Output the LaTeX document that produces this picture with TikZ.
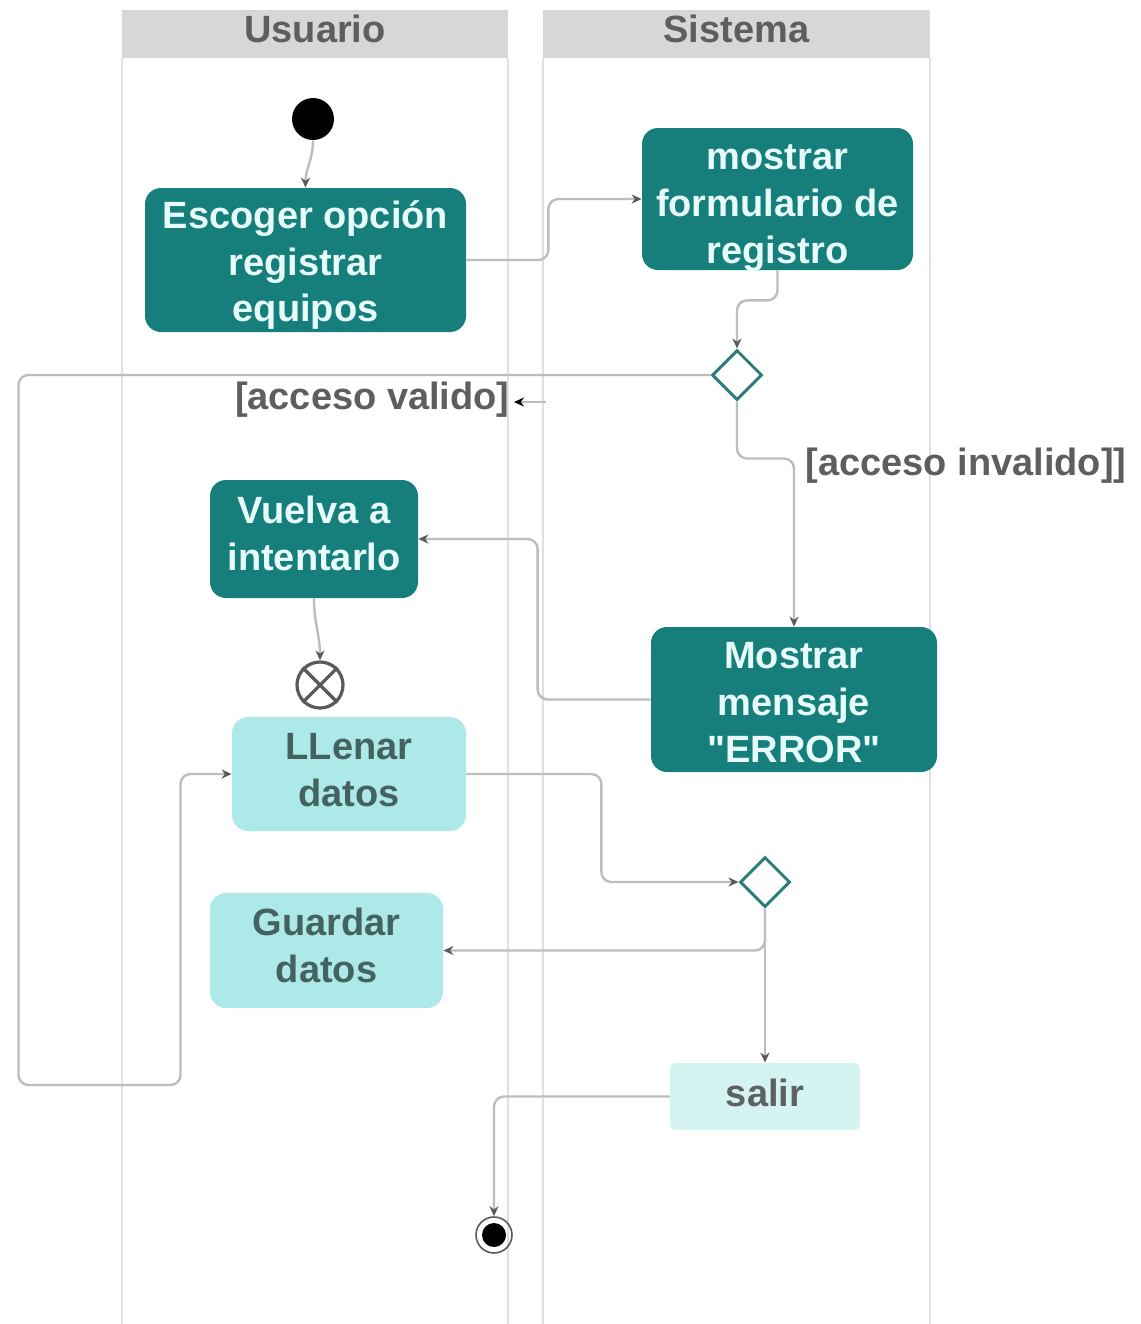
\documentclass[tikz,border=0pt]{standalone}
\usepackage{fontspec}
\setmainfont{Liberation Sans}
\newfontfamily\qfont{Liberation Sans}
\usetikzlibrary{shapes.geometric,arrows.meta}
\definecolor{dteal}{HTML}{167F7B}
\definecolor{dtext}{HTML}{E6FBFA}
\definecolor{lcyan}{HTML}{AEE9EA}
\definecolor{ltext}{HTML}{44625F}
\definecolor{vlcyan}{HTML}{D5F3F1}
\definecolor{stext}{HTML}{5A6262}
\definecolor{lanegray}{HTML}{D6D7D9}
\definecolor{laneline}{HTML}{E0E0E0}
\definecolor{connline}{HTML}{BDBDBD}
\definecolor{tipgray}{HTML}{5A5A5A}
\definecolor{dstroke}{HTML}{2D7D78}
\definecolor{lbl}{HTML}{5E5E5E}
\begin{document}
\begin{tikzpicture}[x=0.5pt,y=-0.5pt,
  font=\fontsize{19pt}{23.5pt}\selectfont\bfseries,
  darkbox/.style={rectangle,rounded corners=8pt,fill=dteal,inner sep=0pt},
  lightbox/.style={rectangle,rounded corners=8pt,fill=lcyan,inner sep=0pt},
  salbox/.style={rectangle,rounded corners=3pt,fill=vlcyan,inner sep=0pt},
  darktext/.style={text=dtext,align=center,inner sep=0pt},
  lighttext/.style={text=ltext,align=center,inner sep=0pt},
  saltext/.style={text=stext,align=center,inner sep=0pt},
  decision/.style={diamond,draw=dstroke,line width=1.5pt,fill=white,minimum width=25pt,minimum height=25pt,inner sep=0pt},
  conn/.style={draw=connline,line width=1.2pt,rounded corners=5pt,-{Stealth[length=5pt,width=4.5pt,color=tipgray]}},
  lane/.style={draw=laneline,line width=0.8pt},
  header/.style={fill=lanegray,inner sep=0pt},
  guard/.style={text=lbl,inner sep=0pt}
]
\useasboundingbox (0,0) rectangle (1141,1324);
\fill[white] (0,0) rectangle (1141,1324);
% lanes
\draw[lane] (122,58) -- (122,1324);
\draw[lane] (508,58) -- (508,1324);
\draw[lane] (543,58) -- (543,1324);
\draw[lane] (930,58) -- (930,1324);
\node[header,minimum width=193pt,minimum height=24pt] (hu) at (315,34) {};
\node[header,minimum width=193.5pt,minimum height=24pt] (hs) at (736.5,34) {};
\node[guard] (hut) at (315,29) {Usuario};
\node[guard] (hst) at (736.5,29) {Sistema};
% nodes
\node[circle,fill=black,minimum size=21pt,inner sep=0pt] (start) at (313,119) {};
\node[darkbox,minimum width=160.5pt,minimum height=72pt] (esc) at (305.5,260) {};
\node[darktext] (esct) at (305.5,265) {Escoger opción\\registrar\\equipos};
\node[darkbox,minimum width=135.5pt,minimum height=71pt] (mos) at (777.5,199) {};
\node[darktext] (most) at (777.5,208) {mostrar\\formulario de\\registro};
\node[decision] (d1) at (737,375) {};
\node[guard,anchor=east] (lv) at (510,400) {[acceso valido]};
\coordinate (vstub) at (546,402);
\node[guard,anchor=west] (li) at (805,466) {[acceso invalido]]};
\node[darkbox,minimum width=104pt,minimum height=59pt] (vue) at (314,539) {};
\node[darktext] (vuet) at (314,533) {Vuelva a\\intentarlo};
\node[darkbox,minimum width=143pt,minimum height=72.5pt] (err) at (794,699.5) {};
\node[darktext] (errt) at (794,702.5) {Mostrar\\mensaje\\{\qfont\bfseries "ERROR"}};
\node[circle,draw=tipgray,line width=1.6pt,minimum size=23pt,inner sep=0pt] (xf) at (320,685) {};
\draw[tipgray,line width=1.6pt] (xf.north east) -- (xf.south west) (xf.north west) -- (xf.south east);
\node[lightbox,minimum width=117pt,minimum height=57pt] (lle) at (349,774) {};
\node[lighttext] (llet) at (349,770) {LLenar\\datos};
\node[decision] (d2) at (765,882) {};
\node[lightbox,minimum width=116.5pt,minimum height=57.5pt] (gua) at (326.5,950.5) {};
\node[lighttext] (guat) at (326.5,945.5) {Guardar\\datos};
\node[salbox,minimum width=95pt,minimum height=33.5pt] (sal) at (765,1096.5) {};
\node[saltext] (salt) at (765,1093) {salir};
\node[circle,draw=tipgray,line width=0.8pt,minimum size=18pt,inner sep=0pt] (fin) at (494,1235) {};
\fill[black] (fin.center) circle[radius=6pt];
% connectors
\draw[conn,rounded corners=0pt] (start.south) to[out=-90,in=90] (esc.north);
\draw[conn] (esc.east) -- ++(82,0) |- (mos.west);
\draw[conn] (mos.south) -- ++(0,30) -| (d1.north);
\draw[conn] (d1.west) -- ++(-692,0) -- ++(0,710) -- ++(162,0) |- (lle.west);
\draw[draw=connline,line width=1.2pt,-{Stealth[length=5pt,width=4.5pt,color=black]}] (vstub) -- ([xshift=2pt]lv.east |- vstub);
\draw[conn] (d1.south) -- ++(0,57) -| (err.north);
\draw[conn] (err.west) -- ++(-113,0) |- (vue.east);
\draw[conn,rounded corners=0pt] (vue.south) to[out=-90,in=90] (xf.north);
\draw[conn] (lle.east) -- ++(135,0) |- (d2.west);
\draw[conn] (d2.south) |- (gua.east);
\draw[conn] (d2.south) -- (sal.north);
\draw[conn] (sal.west) -| (fin.north);
\end{tikzpicture}
\end{document}
